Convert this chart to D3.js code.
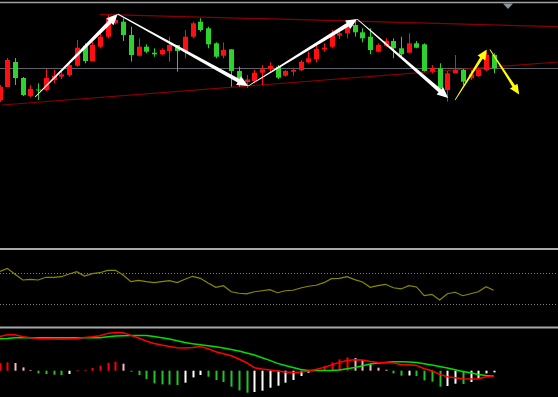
<!DOCTYPE html>
<html>
<head>
<meta charset="utf-8">
<script src="https://cdn.jsdelivr.net/npm/d3@7"></script>
<style>
  html, body { margin: 0; padding: 0; background: #000; }
  svg { display: block; }
</style>
</head>
<body>
<svg id="chart" width="558" height="397"></svg>
<script>
// candles, oldest first (price units)
var open  = [150,163,188,172,154,160.5,160,170,173.3,175,184.3,204.3,189,203.3,213.3,226.7,228.3,215,194.3,203.3,197.3,195.7,199,205,198.3,213.3,228.3,221.7,206.7,194.3,200.7,179,168,169,177.3,181,183.3,174.3,178.3,179.7,187.7,191,200.7,203.3,214.3,216.7,225,217.7,213.3,198.3,204.3,209,201.7,197.3,206.7,205.7,178.3,181.7,160,176.7,180,171.7,174,180,195];
var high  = [165,192,192,173,165,166.7,181,180,179,186.7,210,206.7,208.3,218.3,235,233.3,231.7,223.3,211.7,205.7,201.7,201.7,213.3,205,220,228.3,231.7,223.3,207.7,207.7,200.7,183.3,175,180,185,187.7,185,180,182.3,190,198.3,205,206.7,220,219,226.7,230,221.7,221.7,206.7,211.7,211.7,213.3,216.7,209,206.7,185,186.7,179,195,181,180,182.3,198.3,196.7];
var low   = [148,163,165,154,153,150,159,166.7,171,173.3,183.3,186.7,188.3,201.7,211.7,225.7,209,188.3,193.3,196.7,193.3,195,188.3,178.3,191.7,211.7,218.3,201.7,191.7,191.7,163.3,163.3,162,166.7,165,178.3,171,173.3,174.3,179,186.7,187.7,198.3,201.7,211,211.7,213.3,207.7,195.7,197.7,203.3,191.7,193.3,196.7,201.7,178.3,176.7,160,148.3,176.7,165,170,173.3,179,176.7];
var close = [163,190,172,155,161,159.5,172,174.3,175.7,185,202.3,189,205,213.3,231.7,230,215,195,203.3,198.3,195.7,200,205,199,213.3,226.7,220,205.7,193.3,200,179,171,170.5,177.3,180.7,184,172.3,179,180,188.3,191.7,201,202.3,215.7,216.7,223.3,217.7,211.7,200,205,209,201.7,195.7,206.7,202.3,179,181.7,161.7,176.7,180,168.3,175.7,180.7,195,181.7];

// RSI (0-100)
var rsi = [72.0,76.1,68.3,60.9,61.8,60.9,64.4,64.4,65.2,68.7,71.7,66.1,69.1,70.4,73.5,73.5,67.4,58.7,60.5,58.7,57.4,58.7,60.0,57.4,61.8,65.7,63.1,57.0,51.4,53.5,45.6,43.6,42.7,45.6,46.9,48.2,44.3,46.9,47.5,50.5,52.7,54.0,57.4,62.6,63.1,65.2,61.3,58.3,51.4,53.5,55.3,50.8,49.2,53.5,51.8,40.4,42.2,34.8,43.0,44.9,40.4,43.0,45.6,52.2,47.5];
var rsiLevels = [70, 30];

// MACD (units of 0.1 pip)
var macdMain = [34,36,36,34,33,32.3,32,31.7,31.7,31.7,32.3,33.3,34,35,37.3,38.3,38,35.3,32.7,29.7,27.3,25.7,24.3,23,22.7,23.3,24.3,22,19,17,15,11.7,8,3,1.7,0.7,-0.3,-1.3,-1.7,-1.3,-0.3,1.3,3.3,5.7,8.3,10.3,11,10.7,9.3,8.3,8,7.7,6.3,6,5.3,2,0,-3.7,-6,-7,-8,-8.3,-8,-6,-5.3];
var macdSignal = [32,32.3,33,33.3,33,33,33,33,33,33,33,33,33,33,34,34.7,35,35.3,35.3,35.3,34.3,33,31.7,30,28.3,27,26,25,24,22.7,21.3,19.7,17.7,15.7,13,10.3,7.3,5.3,3.3,1.3,0.3,0.3,0.3,0.3,0.7,2,3.3,5,6.7,7.7,8.3,9,9,8.7,8.3,7,5.7,4.3,2.7,1,-0.7,-2,-3.7,-4.7,-5.3];
var macdHist = [7.5,8.3,7.7,3.3,0.7,-2.7,-3.3,-4,-4.3,-3.3,0.7,0.9,2.7,5,8,9,7,-1,-4.3,-8.3,-12.7,-13.7,-13.9,-14.3,-12,-6.7,-4.3,-6,-9.3,-11.3,-16,-19.7,-22,-21.3,-20,-17,-15,-12,-9.3,-5.3,-2,2,4.7,8.3,11.3,13.3,12.7,10.7,6.3,3,1,-2.7,-5,-4.8,-5.3,-9.7,-11,-16,-15.3,-13,-13.3,-11.3,-7.7,-2.7,-1.7];

// drawn objects: [bar, price] pairs
var upperTrend = [[13.0, 235.7], [72.3, 223.3]];
var lowerTrend = [[0.3, 145], [72.3, 188]];
var whiteArrows = [
  [[4.6, 153], [15.3, 236]],
  [[15.3, 236], [32.2, 164]],
  [[32.2, 164], [46.3, 231]],
  [[46.3, 231], [58.1, 152]]
];
var yellowArrows = [
  [[59.0, 150], [63.1, 200.5]],
  [[63.5, 200.5], [67.3, 155.5]]
];

var svg = d3.select("#chart"),
    width = +svg.attr("width"),
    height = +svg.attr("height");

svg.append("rect").attr("width", width).attr("height", height).attr("fill", "#000");

var x = d3.scaleLinear().domain([0, 64]).range([-0.4, 493.7]);
var yPrice = d3.scaleLinear().domain([3, 250]).range([247, 0]);
var yRsi = d3.scaleLinear().domain([0, 100]).range([326.7, 250]);
var yMacd = d3.scaleLinear().domain([-27, 42]).range([397.7, 328.7]);

var idx = d3.range(open.length);

// clip paths for panels
var defs = svg.append("defs");
defs.append("clipPath").attr("id", "clipMain").append("rect")
    .attr("x", 0).attr("y", 4).attr("width", width).attr("height", 243);
defs.append("clipPath").attr("id", "clipRsi").append("rect")
    .attr("x", 0).attr("y", 250).attr("width", width).attr("height", 76);
defs.append("clipPath").attr("id", "clipMacd").append("rect")
    .attr("x", 0).attr("y", 329).attr("width", width).attr("height", 68);

// panel borders
svg.append("line").attr("x1", 0).attr("x2", width).attr("y1", 2.5).attr("y2", 2.5)
   .attr("stroke", "#a0a0a0").attr("stroke-width", 1.5);
[249, 327.5].forEach(function(yy) {
  svg.append("line").attr("x1", 0).attr("x2", width).attr("y1", yy).attr("y2", yy)
     .attr("stroke", "#a8a8a8").attr("stroke-width", 2);
});
svg.append("path").attr("d", "M503,3.5L513,3.5L508,9Z").attr("fill", "#8a94a0");

// ---- main panel
var main = svg.append("g").attr("clip-path", "url(#clipMain)");

// last price line
var lastY = Math.round(yPrice(close[close.length - 1])) + 0.5;
main.append("line").attr("x1", 0).attr("x2", width).attr("y1", lastY).attr("y2", lastY)
    .attr("stroke", "#5c636b").attr("stroke-width", 1);

[upperTrend, lowerTrend].forEach(function(t) {
  main.append("line")
      .attr("x1", x(t[0][0])).attr("y1", yPrice(t[0][1]))
      .attr("x2", x(t[1][0])).attr("y2", yPrice(t[1][1]))
      .attr("stroke", "#8a0000").attr("stroke-width", 1.2);
});

var candle = main.append("g").selectAll("g")
    .data(idx).enter().append("g");

candle.append("line")
    .attr("x1", function(i) { return Math.round(x(i)) + 0.5; })
    .attr("x2", function(i) { return Math.round(x(i)) + 0.5; })
    .attr("y1", function(i) { return yPrice(high[i]); })
    .attr("y2", function(i) { return yPrice(low[i]); })
    .attr("stroke", function(i) { return close[i] >= open[i] ? "#ff1010" : "#2ed12e"; })
    .attr("stroke-width", 1);

candle.append("rect")
    .attr("x", function(i) { return Math.round(x(i)) - 2; })
    .attr("width", 5)
    .attr("y", function(i) { return yPrice(Math.max(open[i], close[i])); })
    .attr("height", function(i) { return Math.max(1, Math.abs(yPrice(open[i]) - yPrice(close[i]))); })
    .attr("fill", function(i) { return close[i] >= open[i] ? "#ff1010" : "#2ed12e"; });

// tapered arrows
function arrowPath(a, w0, w1, headLen, headHalf) {
  var x1 = x(a[0][0]), y1 = yPrice(a[0][1]), x2 = x(a[1][0]), y2 = yPrice(a[1][1]);
  var dx = x2 - x1, dy = y2 - y1, len = Math.sqrt(dx * dx + dy * dy);
  var ux = dx / len, uy = dy / len, nx = -uy, ny = ux;
  var bx = x2 - ux * headLen, by = y2 - uy * headLen;
  var pts = [
    [x1 + nx * w0 / 2, y1 + ny * w0 / 2],
    [bx + nx * w1 / 2, by + ny * w1 / 2],
    [bx + nx * headHalf, by + ny * headHalf],
    [x2, y2],
    [bx - nx * headHalf, by - ny * headHalf],
    [bx - nx * w1 / 2, by - ny * w1 / 2],
    [x1 - nx * w0 / 2, y1 - ny * w0 / 2]
  ];
  return "M" + pts.map(function(p) { return p[0].toFixed(1) + "," + p[1].toFixed(1); }).join("L") + "Z";
}

main.selectAll("path.warrow").data(whiteArrows).enter().append("path")
    .attr("class", "warrow")
    .attr("d", function(a) { return arrowPath(a, 0.8, 4, 11, 5); })
    .attr("fill", "#ffffff");

main.selectAll("path.yarrow").data(yellowArrows).enter().append("path")
    .attr("class", "yarrow")
    .attr("d", function(a) { return arrowPath(a, 0.8, 3, 10, 4.5); })
    .attr("fill", "#ffff00");

// ---- RSI panel
var rsiG = svg.append("g").attr("clip-path", "url(#clipRsi)");
rsiLevels.forEach(function(v) {
  var yy = Math.round(yRsi(v)) + 0.5;
  rsiG.append("line").attr("x1", 0).attr("x2", width).attr("y1", yy).attr("y2", yy)
      .attr("stroke", "#808080").attr("stroke-width", 1).attr("stroke-dasharray", "1,2");
});
rsiG.append("path")
    .datum(idx)
    .attr("fill", "none")
    .attr("stroke", "#8a8a00")
    .attr("stroke-width", 1.2)
    .attr("d", d3.line().x(function(i) { return x(i); }).y(function(i) { return yRsi(rsi[i]); }));

// ---- MACD panel
var macdG = svg.append("g").attr("clip-path", "url(#clipMacd)");

function histColor(i) {
  var v = macdHist[i], p = i > 0 ? macdHist[i - 1] : v;
  if (v >= 0) return v >= p ? "#ff0000" : "#f5b8c0";
  return v < p ? "#22c322" : "#ffffff";
}

macdG.selectAll("rect.hist").data(idx).enter().append("rect")
    .attr("class", "hist")
    .attr("x", function(i) { return Math.round(x(i)) - 0.5; })
    .attr("width", 2)
    .attr("y", function(i) { return Math.min(yMacd(0), yMacd(macdHist[i])); })
    .attr("height", function(i) { return Math.abs(yMacd(macdHist[i]) - yMacd(0)); })
    .attr("fill", histColor);

macdG.append("path").datum(idx)
    .attr("fill", "none").attr("stroke", "#00e000").attr("stroke-width", 1.5)
    .attr("d", d3.line().x(function(i) { return x(i); }).y(function(i) { return yMacd(macdSignal[i]); }));

macdG.append("path").datum(idx)
    .attr("fill", "none").attr("stroke", "#ff0000").attr("stroke-width", 1.5)
    .attr("d", d3.line().x(function(i) { return x(i); }).y(function(i) { return yMacd(macdMain[i]); }));
</script>
</body>
</html>
